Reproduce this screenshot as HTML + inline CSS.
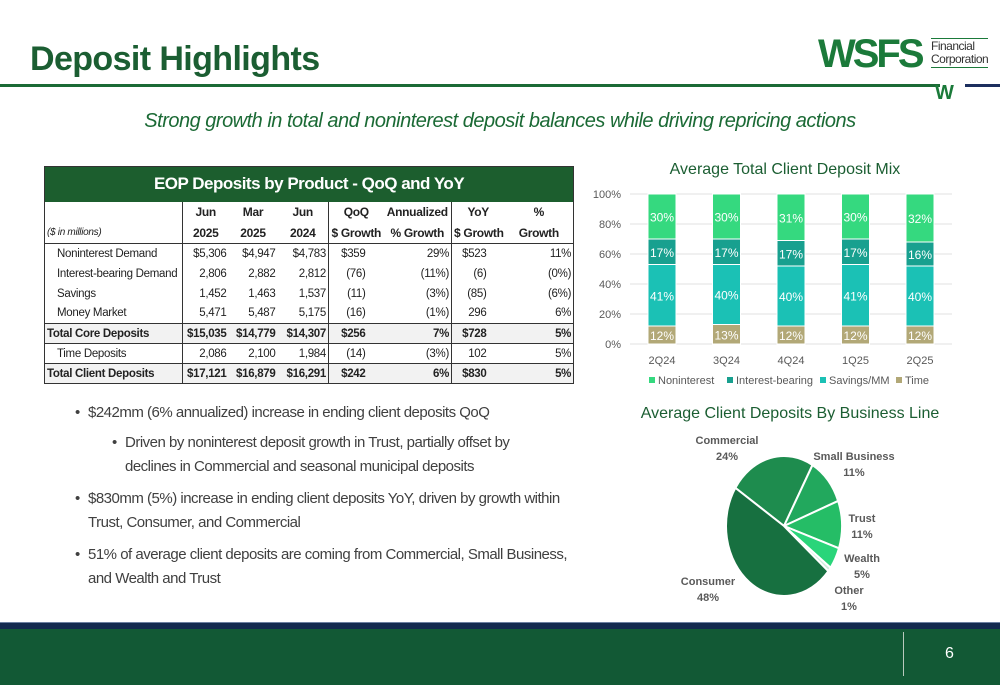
<!DOCTYPE html>
<html><head><meta charset="utf-8">
<style>
*{margin:0;padding:0;box-sizing:border-box}
body{width:1000px;height:685px;position:relative;background:#fff;font-family:"Liberation Sans",sans-serif;overflow:hidden}
.abs{position:absolute}
#title{left:30px;top:40px;font-size:34px;font-weight:bold;color:#1b5e32;letter-spacing:-0.6px}
#subtitle{left:0;width:1000px;top:110px;text-align:center;font-size:20px;font-style:italic;color:#1b6a35;letter-spacing:-0.5px}
table{border-collapse:collapse;position:absolute;left:44px;top:166px;width:529px;font-size:11.5px;color:#222;table-layout:fixed;letter-spacing:-0.3px}
td{height:20px;padding:0 2px;text-align:right;white-space:nowrap;overflow:visible}
td.l{text-align:left;padding-left:12px}
.tt{background:#1c5e2e;color:#fff;font-weight:bold;font-size:17px;text-align:center;height:35px;letter-spacing:-0.5px}
.hd td{font-weight:bold;text-align:center;height:21px;font-size:12px}
.b td{font-weight:bold}
.b td.l{padding-left:2px}
.vl{border-right:1.5px solid #333}
.bul{font-size:15px;color:#404040;letter-spacing:-0.5px;line-height:24px}
.bul .dot{position:absolute;left:-13px}
</style></head><body>
<div id="title" class="abs">Deposit Highlights</div>
<div class="abs" style="left:0;top:84px;width:940px;height:3px;background:#1b6a35"></div>
<div class="abs" style="left:965px;top:84px;width:35px;height:3px;background:#1c2f5e"></div>
<div class="abs" style="left:935px;top:82px;font-size:20px;font-weight:bold;color:#1b7a3a;letter-spacing:-2px">W</div>
<div class="abs" style="left:818px;top:32px;font-size:40px;font-weight:900;color:#1b7a3a;letter-spacing:-3px;line-height:44px">WSFS</div>
<div class="abs" style="left:931px;top:38px;font-size:12px;line-height:13px;color:#333;border-top:1px solid #1b7a3a;border-bottom:1px solid #1b7a3a;padding:1px 0;letter-spacing:-0.5px">Financial<br>Corporation</div>
<div id="subtitle" class="abs">Strong growth in total and noninterest deposit balances while driving repricing actions</div>

<table style="border:1.5px solid #333">
<colgroup><col style="width:138px"><col style="width:46px"><col style="width:49px"><col style="width:51px"><col style="width:55px"><col style="width:68px"><col style="width:53px"><col style="width:69px"></colgroup>
<tr><td colspan="8" class="tt">EOP Deposits by Product - QoQ and YoY</td></tr>
<tr class="hd"><td class="l vl" style="padding-left:2px"></td><td>Jun</td><td>Mar</td><td class="vl">Jun</td><td>QoQ</td><td class="vl">Annualized</td><td>YoY</td><td>%</td></tr>
<tr class="hd" style="border-bottom:1.5px solid #333"><td class="l vl" style="padding-left:2px;font-weight:normal;font-style:italic;font-size:10px;text-align:left">($ in millions)</td><td>2025</td><td>2025</td><td class="vl">2024</td><td>$ Growth</td><td class="vl">% Growth</td><td>$ Growth</td><td>Growth</td></tr>
<tr><td class="l vl">Noninterest Demand</td><td>$5,306</td><td>$4,947</td><td class="vl">$4,783</td><td style="padding-right:18px">$359</td><td class="vl">29%</td><td style="padding-right:18px">$523</td><td>11%</td></tr>
<tr><td class="l vl">Interest-bearing Demand</td><td>2,806</td><td>2,882</td><td class="vl">2,812</td><td style="padding-right:18px">(76)</td><td class="vl">(11%)</td><td style="padding-right:18px">(6)</td><td>(0%)</td></tr>
<tr><td class="l vl">Savings</td><td>1,452</td><td>1,463</td><td class="vl">1,537</td><td style="padding-right:18px">(11)</td><td class="vl">(3%)</td><td style="padding-right:18px">(85)</td><td>(6%)</td></tr>
<tr><td class="l vl">Money Market</td><td>5,471</td><td>5,487</td><td class="vl">5,175</td><td style="padding-right:18px">(16)</td><td class="vl">(1%)</td><td style="padding-right:18px">296</td><td>6%</td></tr>
<tr class="b" style="border-top:1.5px solid #333;border-bottom:1.5px solid #333;background:#f2f2f2"><td class="l vl">Total Core Deposits</td><td>$15,035</td><td>$14,779</td><td class="vl">$14,307</td><td style="padding-right:18px">$256</td><td class="vl">7%</td><td style="padding-right:18px">$728</td><td>5%</td></tr>
<tr><td class="l vl">Time Deposits</td><td>2,086</td><td>2,100</td><td class="vl">1,984</td><td style="padding-right:18px">(14)</td><td class="vl">(3%)</td><td style="padding-right:18px">102</td><td>5%</td></tr>
<tr class="b" style="border-top:1.5px solid #333;background:#f2f2f2"><td class="l vl">Total Client Deposits</td><td>$17,121</td><td>$16,879</td><td class="vl">$16,291</td><td style="padding-right:18px">$242</td><td class="vl">6%</td><td style="padding-right:18px">$830</td><td>5%</td></tr>
</table>

<div class="abs bul" style="left:88px;top:401px"><span class="dot">•</span>$242mm (6% annualized) increase in ending client deposits QoQ</div>
<div class="abs bul" style="left:125px;top:431px;width:400px"><span class="dot">•</span>Driven by noninterest deposit growth in Trust, partially offset by declines in Commercial and seasonal municipal deposits</div>
<div class="abs bul" style="left:88px;top:487px;width:480px"><span class="dot">•</span>$830mm (5%) increase in ending client deposits YoY, driven by growth within Trust, Consumer, and Commercial</div>
<div class="abs bul" style="left:88px;top:543px;width:480px"><span class="dot">•</span>51% of average client deposits are coming from Commercial, Small Business, and Wealth and Trust</div>

<div class="abs" style="left:590px;top:161px;width:390px;text-align:center;font-size:16px;color:#1b5e32">Average Total Client Deposit Mix</div>
<svg id="bar" class="abs" style="left:0;top:0" width="1000" height="685"></svg>
<div class="abs" style="left:640px;top:405px;width:300px;text-align:center;font-size:16px;color:#1b5e32">Average Client Deposits By Business Line</div>
<svg id="pie" class="abs" style="left:0;top:0" width="1000" height="685"></svg>

<div class="abs" style="left:0;top:622px;width:1000px;height:7px;background:#13294e;border-top:1px solid #6c7fa0"></div>
<div class="abs" style="left:0;top:629px;width:1000px;height:56px;background:#125935"></div>
<div class="abs" style="left:903px;top:632px;width:1px;height:44px;background:#b9c9bd"></div>
<div class="abs" style="left:945px;top:645px;font-size:16px;color:#fff">6</div>

<script>
const quarters=["2Q24","3Q24","4Q24","1Q25","2Q25"];
const seriesNames=["Time","Savings/MM","Interest-bearing","Noninterest"];
const timeVals=[12,13,12,12,12];
const savingsVals=[41,40,40,41,40];
const interestVals=[17,17,17,17,16];
const nonintVals=[30,30,31,30,32];
const yTicks=[0,20,40,60,80,100];
const colors=["#b2a877","#1bc1b5","#18a08f","#35d97f"];
const NS="http://www.w3.org/2000/svg";
const bar=document.getElementById('bar');
const y=v=>344-v*1.5;
const x=i=>662+i*64.5;
function mk(p,t,a){const e=document.createElementNS(NS,t);for(const k in a)e.setAttribute(k,a[k]);p.appendChild(e);return e;}
yTicks.forEach(t=>{
  const g=mk(bar,'line',{x1:630,x2:952,y1:y(t),y2:y(t),stroke:'#e0e0e0','stroke-width':1});
  
  
  const l=mk(bar,'text',{x:621,y:y(t)+4,'text-anchor':'end','font-size':11,fill:'#595959','font-family':'Liberation Sans'});
  l.textContent=t+'%';
  
  
});
const allSeries=[timeVals,savingsVals,interestVals,nonintVals];
quarters.forEach((q,i)=>{
  let base=0;
  allSeries.forEach((s,k)=>{
    const v=s[i];
    const r=mk(bar,'rect',{x:x(i)-14,y:y(base+v),width:28,height:v*1.5,fill:colors[k],stroke:'#fff','stroke-width':1});
    
    
    const t=mk(bar,'text',{x:x(i),y:y(base+v/2)+5,'text-anchor':'middle','font-size':12,fill:'#fff','font-family':'Liberation Sans'});
    t.textContent=v+'%';
    
    
    base+=v;
  });
  const xl=mk(bar,'text',{x:x(i),y:364,'text-anchor':'middle','font-size':11,fill:'#595959','font-family':'Liberation Sans'});
  xl.textContent=q;
  
  
});
const legendOrder=[3,2,1,0];
const legendX=[649,727,820,896];
legendOrder.forEach((k,j)=>{
  const r=mk(bar,'rect',{x:legendX[j],y:377,width:6,height:6,fill:colors[k]});
  
  
  const t=mk(bar,'text',{x:legendX[j]+9,y:384,'font-size':11,fill:'#595959','font-family':'Liberation Sans'});
  t.textContent=seriesNames[k];
  
  
});

const pieLabels=["Commercial","Small Business","Trust","Wealth","Other","Consumer"];
const pieVals=[24,11,11,5,1,48];
const pieColors=["#1e8c4e","#22a85d","#25bd66","#2ad57a","#cfeedd","#177040"];
const labelPos=[[727,444],[854,460],[862,522],[862,562],[849,594],[708,585]];
const pie=document.getElementById('pie');
const cx=784,cy=526,rx=58,ry=70;
const total=pieVals.reduce((a,b)=>a+b,0);
let ang=-57*Math.PI/180;
pieVals.forEach((v,i)=>{
  const a2=ang+v/total*2*Math.PI;
  const p=(a)=>[cx+rx*Math.sin(a),cy-ry*Math.cos(a)];
  const [x1,y1]=p(ang),[x2,y2]=p(a2);
  const large=(a2-ang)>Math.PI?1:0;
  const s=mk(pie,'path',{d:`M${cx},${cy}L${x1},${y1}A${rx},${ry} 0 ${large} 1 ${x2},${y2}Z`,fill:pieColors[i],stroke:'#fff','stroke-width':2});
  
  
  ang=a2;
  const t=mk(pie,'text',{x:labelPos[i][0],y:labelPos[i][1],'text-anchor':'middle','font-size':11,'font-weight':'bold',fill:'#595959','font-family':'Liberation Sans'});
  
  
  const t1=mk(t,'tspan',{x:labelPos[i][0],dy:0});t1.textContent=pieLabels[i];
  const t2=mk(t,'tspan',{x:labelPos[i][0],dy:16});t2.textContent=v+'%';
});
</script>
</body></html>
